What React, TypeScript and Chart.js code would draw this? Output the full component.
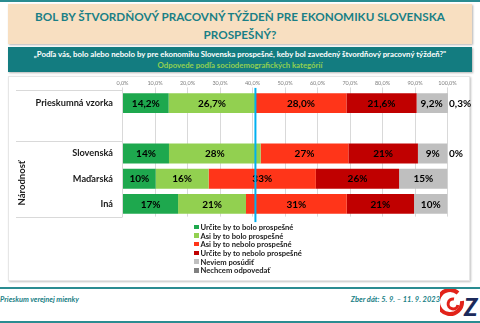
import React, { useEffect, useRef } from 'react';
import { Chart, registerables } from 'chart.js';

Chart.register(...registerables);

const FONT = 'Lato, "Noto Sans", sans-serif';

const categories = ['Prieskumná vzorka', '', 'Slovenská', 'Maďarská', 'Iná'];
const seriesNames = [
  'Určite by to bolo prospešné',
  'Asi by to bolo prospešné',
  'Asi by to nebolo prospešné',
  'Určite by to nebolo prospešné',
  'Neviem posúdiť',
  'Nechcem odpovedať',
];
const urciteAno = [14.2, null, 14.3, 10.2, 17.1];
const asiAno = [26.7, null, 28.2, 16.3, 20.9];
const asiNie = [28.0, null, 27.0, 33.0, 31.0];
const urciteNie = [21.6, null, 21.4, 25.6, 20.7];
const neviem = [9.2, null, 9.1, 14.9, 10.3];
const nechcem = [0.3, null, 0, null, null];
const labelDecimals = [1, 0, 0, 0, 0];
const xTickStep = 10;
const seriesColors = ['#1EA84E', '#92D050', '#FF3519', '#C00000', '#BFBFBF', '#808080'];
const groupLabel = 'Národnosť';

const seriesData = [urciteAno, asiAno, asiNie, urciteNie, neviem, nechcem];

const barLabels = {
  id: 'barLabels',
  afterDatasetsDraw(chart: any) {
    const ctx = chart.ctx;
    ctx.save();
    ctx.font = `bold 10px ${FONT}`;
    ctx.fillStyle = '#000';
    ctx.textBaseline = 'middle';
    const last = chart.data.datasets.length - 1;
    chart.data.datasets.forEach((ds: any, i: number) => {
      const meta = chart.getDatasetMeta(i);
      meta.data.forEach((bar: any, j: number) => {
        const v = ds.data[j];
        if (v === null || v === undefined) return;
        const p = bar.getProps(['x', 'y', 'base'], true);
        const txt = v.toFixed(labelDecimals[j]).replace('.', ',') + '%';
        if (i === last) {
          ctx.textAlign = 'left';
          ctx.fillText(txt, p.x + 1.5, p.y + 0.5);
        } else {
          ctx.textAlign = 'center';
          ctx.fillText(txt, (p.x + p.base) / 2, p.y + 0.5);
        }
      });
    });
    ctx.restore();
  },
};

const decorations = {
  id: 'decorations',
  afterDraw(chart: any) {
    const ctx = chart.ctx;
    const y = chart.scales.y;
    const x = chart.scales.x;
    const area = chart.chartArea;
    const half = (y.getPixelForValue(1) - y.getPixelForValue(0)) / 2;
    ctx.save();
    ctx.strokeStyle = '#D9D9D9';
    ctx.lineWidth = 1;
    [y.getPixelForValue(0) - half, y.getPixelForValue(2) - half, y.getPixelForValue(4) + half].forEach((yy: number) => {
      const py = Math.round(yy) + 0.5;
      ctx.beginPath();
      ctx.moveTo(8, py);
      ctx.lineTo(area.left, py);
      ctx.stroke();
    });
    const bx = x.getPixelForValue((urciteAno[0] as number) + (asiAno[0] as number));
    ctx.strokeStyle = '#00B0F0';
    ctx.lineWidth = 2;
    ctx.beginPath();
    ctx.moveTo(bx, area.top - 2.5);
    ctx.lineTo(bx, area.bottom + 5.5);
    ctx.stroke();
    ctx.restore();
  },
};

function ChartBox() {
  const ref = useRef<HTMLCanvasElement>(null);
  useEffect(() => {
    if (!ref.current) return;
    const chart = new Chart(ref.current, {
      type: 'bar',
      data: {
        labels: categories,
        datasets: seriesData.map((d, i) => ({
          label: seriesNames[i],
          data: d,
          backgroundColor: seriesColors[i],
          borderWidth: 0,
          barPercentage: 0.98,
          categoryPercentage: 0.8,
        })),
      },
      options: {
        indexAxis: 'y',
        animation: false,
        responsive: false,
        maintainAspectRatio: false,
        layout: { padding: { left: 0, right: 24.5, top: 0, bottom: 9.4 } },
        plugins: { legend: { display: false }, tooltip: { enabled: false } },
        scales: {
          x: {
            position: 'top',
            stacked: true,
            min: 0,
            max: 100,
            afterFit: (s: any) => { s.height = 14.4; },
            ticks: {
              stepSize: xTickStep,
              padding: 1,
              font: { family: FONT, size: 5.5 },
              color: '#7F7F7F',
              callback: (v: any) => Number(v).toFixed(1).replace('.', ',') + '%',
            },
            grid: { color: '#D9D9D9', tickLength: 3 },
            border: { display: false },
          },
          y: {
            stacked: true,
            afterFit: (s: any) => { s.width = 114.5; },
            ticks: {
              padding: 1.5,
              font: { family: FONT, size: 9.2, weight: 'bold' },
              color: '#1A1A1A',
            },
            grid: { display: false },
            border: { display: true, color: '#D9D9D9' },
          },
        },
      },
      plugins: [barLabels, decorations],
    } as any);
    return () => chart.destroy();
  }, []);
  return <canvas ref={ref} width={464} height={150} style={{ position: 'absolute', left: 8, top: 76, width: 464, height: 150 }} />;
}

export default function App() {
  useEffect(() => {
    document.body.style.margin = '0';
  }, []);
  const teal = '#1A7F86';
  return (
    <div style={{ position: 'absolute', left: 0, top: 0, width: 480, height: 323, background: '#fff', overflow: 'hidden', fontFamily: FONT }}>
      <div style={{ position: 'absolute', left: 0, top: 0, width: 480, height: 2, background: '#2A8C91' }} />
      <div style={{ position: 'absolute', left: 8, top: 4, width: 464, height: 40, background: '#F8DFC1', boxShadow: '1px 1px 2px rgba(0,0,0,0.3)', textAlign: 'center', color: teal, fontWeight: 700, fontSize: 11.7, lineHeight: '18px', paddingTop: 2.5, boxSizing: 'border-box', whiteSpace: 'nowrap' }}>
        BOL BY ŠTVORDŇOVÝ PRACOVNÝ TÝŽDEŇ PRE EKONOMIKU SLOVENSKA<br />PROSPEŠNÝ?
      </div>
      <div style={{ position: 'absolute', left: 8, top: 47, width: 464, height: 25, background: '#137C80', boxShadow: '1px 1px 2px rgba(0,0,0,0.3)', textAlign: 'center', fontWeight: 700, fontSize: 7.8, lineHeight: '10.5px', paddingTop: 2, boxSizing: 'border-box', whiteSpace: 'nowrap' }}>
        <div style={{ color: '#fff' }}>„Podľa vás, bolo alebo nebolo by pre ekonomiku Slovenska prospešné, keby bol zavedený štvordňový pracovný týždeň?"</div>
        <div style={{ color: '#92D050' }}>Odpovede podľa sociodemografických kategórií</div>
      </div>
      <div style={{ position: 'absolute', left: 8, top: 76, width: 462, height: 205, background: '#fff', border: '1px solid #E6E6E6', boxShadow: '1px 1px 2px rgba(0,0,0,0.25)', boxSizing: 'border-box' }} />
      <ChartBox />
      <div style={{ position: 'absolute', left: 22, top: 183, width: 0, height: 0 }}>
        <div style={{ position: 'absolute', left: -40, top: -6, width: 80, height: 12, textAlign: 'center', transform: 'rotate(-90deg)', fontWeight: 700, fontSize: 9.5, lineHeight: '12px', color: '#1A1A1A' }}>{groupLabel}</div>
      </div>
      <div style={{ position: 'absolute', left: 194, top: 222.5 }}>
        {seriesNames.map((n, i) => (
          <div key={n} style={{ display: 'flex', alignItems: 'center', height: 8.7, fontSize: 7.6, fontWeight: 700, color: '#1A1A1A', whiteSpace: 'nowrap' }}>
            <span style={{ display: 'inline-block', width: 4.5, height: 4.5, background: seriesColors[i], marginRight: 2 }} />
            {n}
          </div>
        ))}
      </div>
      <div style={{ position: 'absolute', left: 0, top: 287, width: 480, height: 1.5, background: '#2A8C91' }} />
      <div style={{ position: 'absolute', left: 0, top: 321, width: 480, height: 2, background: '#2A8C91' }} />
      <div style={{ position: 'absolute', left: 0, top: 295, fontSize: 7.4, fontWeight: 700, fontStyle: 'italic', color: teal, whiteSpace: 'nowrap' }}>Prieskum verejnej mienky</div>
      <div style={{ position: 'absolute', right: 40, top: 295, fontSize: 7.5, fontWeight: 700, fontStyle: 'italic', color: teal, whiteSpace: 'nowrap' }}>Zber dát: 5. 9. – 11. 9. 2023</div>
      <svg style={{ position: 'absolute', left: 440, top: 289 }} width={40} height={31} viewBox="0 0 40 31">
        <path d="M 18 4 A 12 12 0 1 0 22 12" fill="none" stroke="#E2231A" strokeWidth={4} />
        <path d="M 14 10 A 5 5 0 1 0 18 16" fill="none" stroke="#E2231A" strokeWidth={3} />
        <text x={24} y={27} fontFamily={FONT} fontWeight={900} fontStyle="italic" fontSize={24} fill="#1C2A5A">Z</text>
      </svg>
    </div>
  );
}
